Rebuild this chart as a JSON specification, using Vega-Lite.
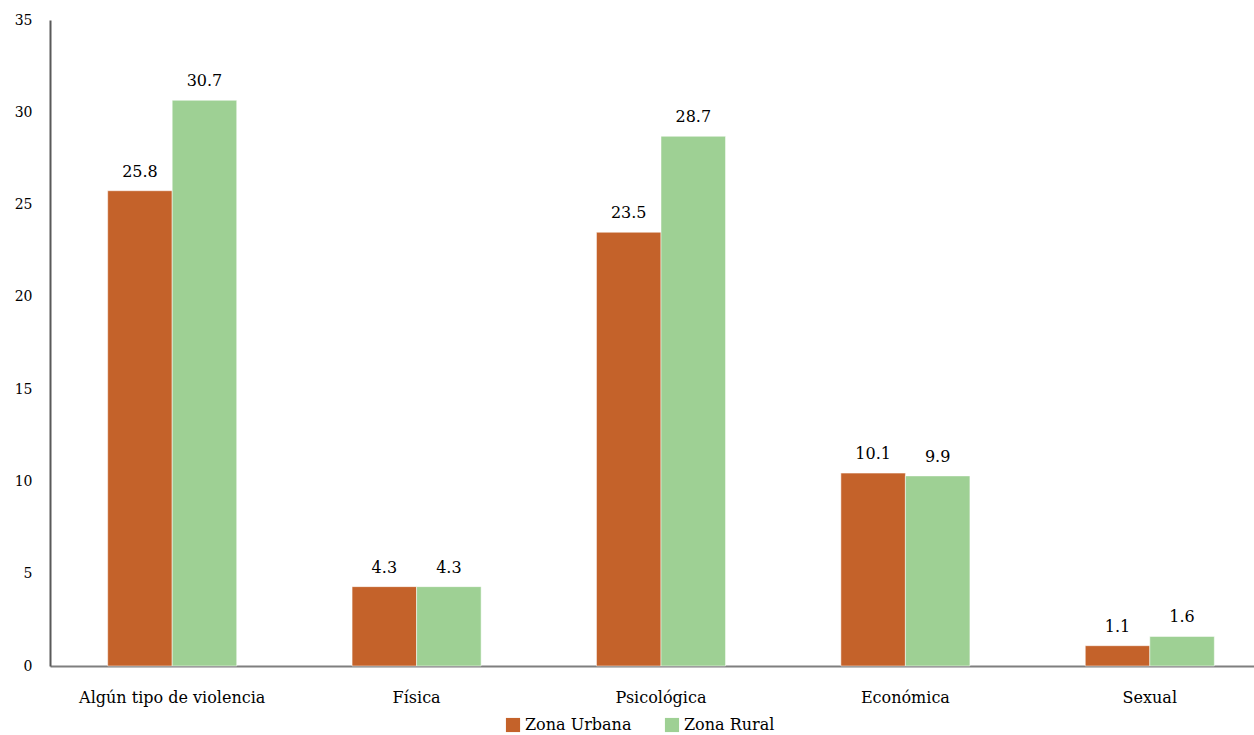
{
  "$schema": "https://vega.github.io/schema/vega-lite/v6.json",
  "width": 1222,
  "height": 646,
  "padding": {"left": 50, "top": 20, "right": 0, "bottom": 69},
  "autosize": {"type": "none"},
  "background": "white",
  "config": {
    "view": {"stroke": null},
    "font": "DejaVu Serif",
    "axis": {"labelFont": "DejaVu Serif", "labelColor": "#000000"},
    "legend": {"labelFont": "DejaVu Serif"}
  },
  "data": {
    "values": [
      {"categoria": "Algún tipo de violencia", "zona": "Zona Urbana", "valor": 25.75, "etiqueta": "25.8"},
      {"categoria": "Algún tipo de violencia", "zona": "Zona Rural", "valor": 30.65, "etiqueta": "30.7"},
      {"categoria": "Física", "zona": "Zona Urbana", "valor": 4.3, "etiqueta": "4.3"},
      {"categoria": "Física", "zona": "Zona Rural", "valor": 4.3, "etiqueta": "4.3"},
      {"categoria": "Psicológica", "zona": "Zona Urbana", "valor": 23.5, "etiqueta": "23.5"},
      {"categoria": "Psicológica", "zona": "Zona Rural", "valor": 28.7, "etiqueta": "28.7"},
      {"categoria": "Económica", "zona": "Zona Urbana", "valor": 10.45, "etiqueta": "10.1"},
      {"categoria": "Económica", "zona": "Zona Rural", "valor": 10.3, "etiqueta": "9.9"},
      {"categoria": "Sexual", "zona": "Zona Urbana", "valor": 1.1, "etiqueta": "1.1"},
      {"categoria": "Sexual", "zona": "Zona Rural", "valor": 1.6, "etiqueta": "1.6"}
    ]
  },
  "encoding": {
    "x": {
      "field": "categoria", "type": "nominal", "sort": null, "title": null,
      "scale": {"paddingInner": 0.472, "paddingOuter": 0.236},
      "axis": {"labelAngle": 0, "ticks": false, "labelPadding": 23, "labelFontSize": 16, "labelLimit": 0, "domainColor": "#7f7f7f", "domainWidth": 2, "grid": false}
    },
    "xOffset": {"field": "zona", "type": "nominal", "sort": ["Zona Urbana", "Zona Rural"]},
    "y": {
      "field": "valor", "type": "quantitative", "title": null,
      "scale": {"domain": [0, 35], "nice": false},
      "axis": {"values": [0, 5, 10, 15, 20, 25, 30, 35], "ticks": false, "grid": false, "labelPadding": 18, "labelFontSize": 14, "domainColor": "#595959", "domainWidth": 2}
    }
  },
  "layer": [
    {
      "mark": {"type": "bar", "stroke": "white", "strokeWidth": 0.5},
      "encoding": {
        "color": {
          "field": "zona", "type": "nominal", "sort": ["Zona Urbana", "Zona Rural"],
          "scale": {"domain": ["Zona Urbana", "Zona Rural"], "range": ["#C4622A", "#9ED094"]},
          "legend": {
            "title": null, "orient": "none", "direction": "horizontal",
            "legendX": 455, "legendY": 697,
            "symbolType": "square", "symbolSize": 200, "symbolStrokeWidth": 0,
            "labelFontSize": 16, "labelOffset": 4, "columnPadding": 32
          }
        }
      }
    },
    {
      "mark": {"type": "text", "baseline": "bottom", "dy": -11, "fontSize": 16, "color": "#000000"},
      "encoding": {"text": {"field": "etiqueta"}}
    }
  ]
}
